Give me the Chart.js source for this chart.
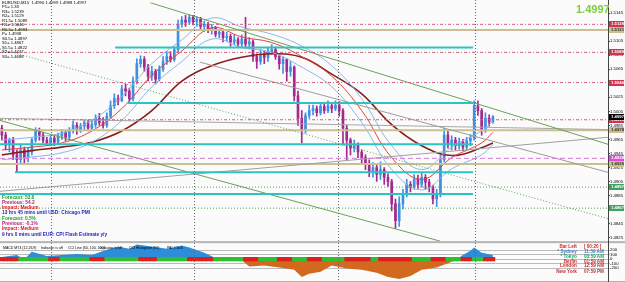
<!DOCTYPE html>
<html lang="en">
<head>
<meta charset="UTF-8" />
<script src="https://cdn.jsdelivr.net/npm/chart.js@4.4.1/dist/chart.umd.min.js"></script>
<style>
  body { margin: 0; background: #fbfbfb; }
  #wrap { position: relative; width: 625px; height: 282px; overflow: hidden; font-family: "Liberation Sans", Arial, sans-serif; }
  #myChart { position: absolute; left: 0; top: 0; }
  .t { position: absolute; white-space: nowrap; line-height: 1; font-size: 8px; transform-origin: 0 0; }
  .row { height: 8.8px; line-height: 8.8px; white-space: nowrap; }
  .clk { height: 8.35px; line-height: 8.35px; white-space: nowrap; }
  .hdr { transform: scale(0.44, 0.55); color: #000; }
</style>
</head>
<body>
<div id="wrap">
  <canvas id="myChart" width="625" height="282"></canvas>

  <div class="t" style="left:2px;top:1px;transform:scale(0.525);line-height:8.48px;color:#000;white-space:pre">EURUSD,M15  1.4990 1.4999 1.4988 1.4997
P1= 1.33
R3= 1.5239
R2= 1.5129
R1.5= 1.5089
R1= 1.5046
R0.5= 1.4993
P= 1.4938
S0.5= 1.4897
S1= 1.4867
S1.5= 1.4822
S2= 1.4747
S3= 1.4688</div>

  <div class="t" style="left:576px;top:4px;font-size:11px;font-weight:bold;color:#7ccd3c">1.4997</div>

  <div class="t" style="left:2px;top:194.5px;transform:scale(0.6);font-weight:bold">
    <div class="row" style="color:#22a022">Forecast: 53.8</div>
    <div class="row" style="color:#b8207e">Previous: 54.2</div>
    <div class="row" style="color:#e02020">Impact: Medium</div>
    <div class="row" style="color:#2424c4">13 hrs 45 mins until USD: Chicago PMI</div>
    <div class="row" style="color:#22a022">Forecast: 0.5%</div>
    <div class="row" style="color:#b8207e">Previous: -0.1%</div>
    <div class="row" style="color:#e02020">Impact: Medium</div>
    <div class="row" style="color:#2424c4">9 hrs 0 mins until EUR: CPI Flash Estimate y/y</div>
  </div>

  <div class="t hdr" style="left:3px;top:246px">MACD MT4 (12,26,9)</div>
  <div class="t hdr" style="left:41px;top:246px">Indicator is off</div>
  <div class="t hdr" style="left:68px;top:246px">CCI Line (50, 100, 100)</div>
  <div class="t hdr" style="left:100px;top:246px">Indicator is off</div>
  <div class="t hdr" style="left:129px;top:246px">CCI Histogram (50)</div>
  <div class="t hdr" style="left:167px;top:246px">PAL Clock</div>

  <div class="t" style="left:540px;top:245px;width:64px;text-align:right;transform:scale(0.575);font-weight:bold">
    <div class="clk" style="color:#cc2a2a">Bar Left</div>
    <div class="clk" style="color:#3a80d0">* Sydney</div>
    <div class="clk" style="color:#2aa06a">* Tokyo</div>
    <div class="clk" style="color:#c03030">Berlin</div>
    <div class="clk" style="color:#c03030">London</div>
    <div class="clk" style="color:#c03030">New York</div>
  </div>
  <div class="t" style="left:584px;top:245px;transform:scale(0.575);font-weight:bold">
    <div class="clk" style="color:#cc2a2a">[ 00:20 ]</div>
    <div class="clk" style="color:#3a80d0">11:59 AM</div>
    <div class="clk" style="color:#2aa06a">08:59 AM</div>
    <div class="clk" style="color:#c03030">01:59 AM</div>
    <div class="clk" style="color:#c03030">12:59 AM</div>
    <div class="clk" style="color:#c03030">07:59 PM</div>
  </div>
</div>

<script>
// EURUSD M15 candles, index 0..131
const opens = [
  1.4981,1.4971,1.4957,1.4964,1.4943,1.4936,1.4950,1.4939,1.4947,1.4964,
  1.4978,1.4971,1.4964,1.4960,1.4967,1.4961,1.4970,1.4975,1.4968,1.4978,
  1.4985,1.4978,1.4984,1.4989,1.4981,1.4986,1.4995,1.4989,1.4985,1.4998,
  1.5013,1.5023,1.5020,1.5037,1.5034,1.5023,1.5048,1.5073,1.5079,1.5068,
  1.5055,1.5062,1.5051,1.5065,1.5076,1.5083,1.5079,1.5093,1.5129,1.5135,
  1.5132,1.5139,1.5133,1.5136,1.5126,1.5129,1.5121,1.5124,1.5115,1.5118,
  1.5110,1.5112,1.5104,1.5107,1.5101,1.5108,1.5101,1.5104,1.5083,1.5076,
  1.5087,1.5082,1.5090,1.5093,1.5083,1.5073,1.5079,1.5062,1.5068,1.5027,
  1.4995,1.4978,1.4999,1.5006,1.5009,1.5003,1.5012,1.5006,1.5013,1.5009,
  1.5014,1.5006,1.4981,1.4964,1.4953,1.4957,1.4947,1.4939,1.4929,1.4919,
  1.4925,1.4915,1.4922,1.4911,1.4905,1.4873,1.4849,1.4873,1.4887,1.4901,
  1.4897,1.4908,1.4901,1.4911,1.4904,1.4897,1.4880,1.4887,1.4936,1.4971,
  1.4957,1.4964,1.4956,1.4961,1.4954,1.4963,1.4967,1.5013,1.5006,1.4978,
  1.4995,1.4990
];
const highs = [
  1.4985,1.4975,1.4967,1.4968,1.4950,1.4957,1.4954,1.4953,1.4967,1.4982,
  1.4981,1.4975,1.4968,1.4971,1.4970,1.4974,1.4979,1.4978,1.4982,1.4991,
  1.4989,1.4988,1.4993,1.4992,1.4993,1.5000,1.5002,1.4996,1.5003,1.5020,
  1.5030,1.5028,1.5042,1.5044,1.5038,1.5054,1.5080,1.5084,1.5083,1.5072,
  1.5069,1.5065,1.5070,1.5083,1.5090,1.5090,1.5097,1.5135,1.5140,1.5142,
  1.5143,1.5142,1.5140,1.5139,1.5133,1.5132,1.5129,1.5126,1.5122,1.5121,
  1.5118,1.5115,1.5114,1.5110,1.5114,1.5139,1.5110,1.5107,1.5087,1.5093,
  1.5091,1.5096,1.5100,1.5097,1.5086,1.5083,1.5080,1.5076,1.5070,1.5034,
  1.5006,1.5003,1.5014,1.5014,1.5013,1.5017,1.5016,1.5020,1.5017,1.5020,
  1.5019,1.5009,1.4985,1.4967,1.4964,1.4960,1.4950,1.4943,1.4936,1.4932,
  1.4930,1.4933,1.4925,1.4916,1.4908,1.4880,1.4883,1.4894,1.4908,1.4905,
  1.4915,1.4914,1.4918,1.4915,1.4908,1.4900,1.4894,1.4943,1.4981,1.4978,
  1.4970,1.4968,1.4967,1.4965,1.4968,1.4972,1.5020,1.5020,1.5009,1.5003,
  1.5000,1.4999
];
const lows = [
  1.4964,1.4950,1.4947,1.4936,1.4918,1.4932,1.4932,1.4933,1.4943,1.4961,
  1.4964,1.4960,1.4956,1.4957,1.4956,1.4958,1.4965,1.4963,1.4964,1.4974,
  1.4972,1.4975,1.4978,1.4977,1.4978,1.4982,1.4985,1.4981,1.4982,1.4995,
  1.5009,1.5014,1.5019,1.5027,1.5019,1.5020,1.5044,1.5068,1.5062,1.5048,
  1.5049,1.5044,1.5048,1.5062,1.5072,1.5075,1.5076,1.5090,1.5125,1.5126,
  1.5129,1.5128,1.5126,1.5122,1.5119,1.5117,1.5115,1.5111,1.5110,1.5104,
  1.5105,1.5098,1.5100,1.5096,1.5097,1.5097,1.5094,1.5076,1.5066,1.5072,
  1.5073,1.5076,1.5086,1.5079,1.5065,1.5059,1.5048,1.5055,1.5020,1.4985,
  1.4960,1.4974,1.4995,1.5000,1.4998,1.5000,1.5002,1.5003,1.5003,1.5006,
  1.4998,1.4957,1.4936,1.4943,1.4947,1.4939,1.4929,1.4922,1.4912,1.4911,
  1.4905,1.4908,1.4901,1.4898,1.4863,1.4838,1.4841,1.4866,1.4883,1.4890,
  1.4894,1.4895,1.4897,1.4894,1.4890,1.4873,1.4869,1.4883,1.4933,1.4953,
  1.4950,1.4950,1.4951,1.4949,1.4951,1.4956,1.4964,1.4999,1.4971,1.4975,
  1.4984,1.4988
];
const closes = [
  1.4971,1.4957,1.4964,1.4943,1.4936,1.4950,1.4939,1.4947,1.4964,1.4978,
  1.4971,1.4964,1.4960,1.4967,1.4961,1.4970,1.4975,1.4968,1.4978,1.4985,
  1.4978,1.4984,1.4989,1.4981,1.4986,1.4995,1.4989,1.4985,1.4998,1.5013,
  1.5023,1.5020,1.5037,1.5034,1.5023,1.5048,1.5073,1.5079,1.5068,1.5055,
  1.5062,1.5051,1.5065,1.5076,1.5083,1.5079,1.5093,1.5129,1.5135,1.5132,
  1.5139,1.5133,1.5136,1.5126,1.5129,1.5121,1.5124,1.5115,1.5118,1.5110,
  1.5112,1.5104,1.5107,1.5101,1.5108,1.5101,1.5104,1.5083,1.5076,1.5087,
  1.5082,1.5090,1.5093,1.5083,1.5073,1.5079,1.5062,1.5068,1.5027,1.4995,
  1.4978,1.4999,1.5006,1.5009,1.5003,1.5012,1.5006,1.5013,1.5009,1.5014,
  1.5006,1.4981,1.4964,1.4953,1.4957,1.4947,1.4939,1.4929,1.4919,1.4925,
  1.4915,1.4922,1.4911,1.4905,1.4873,1.4849,1.4873,1.4887,1.4901,1.4897,
  1.4908,1.4901,1.4911,1.4904,1.4897,1.4880,1.4887,1.4936,1.4971,1.4957,
  1.4964,1.4956,1.4961,1.4954,1.4963,1.4967,1.5013,1.5006,1.4978,1.4995,
  1.4990,1.4997
];

// moving averages at these bar indexes
const maIndex = [0,8,16,24,32,40,48,56,64,72,80,88,96,104,112,120,128,131];
const maSlow  = [1.4943,1.4949,1.4954,1.4961,1.4977,1.5006,1.5048,1.5070,1.5082,1.5087,1.5082,1.5058,1.5030,1.4986,1.4956,1.4942,1.4953,1.4960];
const maFast  = [1.4950,1.4954,1.4960,1.4977,1.5009,1.5056,1.5091,1.5124,1.5111,1.5103,1.5083,1.5055,1.5006,1.4939,1.4908,1.4939,1.4960,1.4975];
const bandUp  = [1.4964,1.4968,1.4974,1.4992,1.5026,1.5073,1.5107,1.5138,1.5125,1.5115,1.5098,1.5070,1.5023,1.4956,1.4922,1.4954,1.4977,1.4991];
const bandDn  = [1.4936,1.4940,1.4946,1.4961,1.4992,1.5040,1.5076,1.5108,1.5096,1.5089,1.5068,1.5040,1.4989,1.4922,1.4893,1.4923,1.4943,1.4958];

// pivot levels and drawn objects
const pivotRes = [1.5129, 1.5089, 1.5046, 1.4993];
const pivotP = 1.4938;
const pivotSup = [1.4897, 1.4867];
const zoneLevels = [1.5121, 1.4978, 1.4930];
const lastPrice = 1.4997;
const cyanLevels = [1.5096, 1.5017, 1.4958, 1.4918, 1.4887];
const cyanFrom = [30.2, 33.6, -0.5, 3.5, -0.5];
const cyanTo = 125.7;
const channelTop = [[39.5, 1.5160], [161.7, 1.4958]];
const channelBottom = [[-0.5, 1.4992], [116.9, 1.4820]];
const channelMid = [[-0.5, 1.5094], [161.7, 1.4852]];
const grayFall = [[52.9, 1.5075], [161.7, 1.4918]];
const grayFlat = [[-0.5, 1.4995], [161.7, 1.4979]];
const grayRise = [[-0.5, 1.4891], [161.7, 1.4968]];
const periodBreaks = [13.1, 51.3, 89.7, 126.2];

// MACD histogram
const macdIndex = [0,4,6,8,12,16,20,24,28,31,34,36,40,44,48,50,54,57,60,64,66,70,74,78,80,82,85,88,92,96,100,103,106,109,112,116,119,121,123,125,126,128,131];
const macdVals = [47,93,0,163,70,93,116,93,209,279,233,326,279,233,302,256,140,23,0,-23,-163,-140,-186,-233,-395,-326,-279,-140,-209,-233,-302,-395,-442,-372,-233,-186,-93,-23,93,186,256,140,93];
const zeroBand = [['r',0,4],['g',5,12],['r',13,15],['g',16,23],['r',24,27],['g',28,36],['r',37,41],['g',42,49],['r',50,56],['g',57,64],['r',65,68],['g',69,73],['r',74,77],['g',78,81],['r',82,85],['g',86,91],['r',92,98],['g',99,100],['r',101,109],['g',110,114],['r',115,118],['g',119,122],['r',123,125],['g',126,128],['r',129,131]];

const priceTicks = [1.5145,1.5125,1.5105,1.5085,1.5065,1.5045,1.5025,1.5005,1.4985,1.4965,1.4945,1.4925,1.4905,1.4885,1.4865,1.4845,1.4825];
const macdTicks = [200,100,0,-100,-200];

const X_MIN = -0.5, X_MAX = 161.7;
const BULL = '#3f8fe3', BEAR = '#a5288c';

function seg(pts) { return pts.map(p => ({ x: p[0], y: p[1] })); }
function hline(v, a, b) { return [{ x: a, y: v }, { x: b, y: v }]; }
function lineDs(data, color, width, dash, order) {
	return { type: 'line', data: data, borderColor: color, borderWidth: width, borderDash: dash || [], pointRadius: 0, fill: false, order: order, yAxisID: 'y' };
}
function maDs(vals, color, width) {
	return { type: 'line', data: maIndex.map((i, k) => ({ x: i, y: vals[k] })), borderColor: color, borderWidth: width, pointRadius: 0, tension: 0.4, fill: false, order: 3, yAxisID: 'y' };
}

const candleColors = closes.map((c, i) => (c >= opens[i] ? BULL : BEAR));
const bandBars = [];
const bandColors = [];
zeroBand.forEach(s => {
	for (let i = s[1]; i <= s[2]; i++) {
		bandBars.push({ x: i, y: [-40, 40] });
		bandColors.push(s[0] === 'r' ? '#e01e1e' : '#2fc02f');
	}
});

const datasets = [
	// levels
	...pivotRes.map(v => lineDs(hline(v, X_MIN, X_MAX), '#d45c7a', 1, [3, 2, 1, 2], 1)),
	lineDs(hline(pivotP, X_MIN, X_MAX), '#d47ad4', 1, [5, 3], 1),
	...pivotSup.map(v => lineDs(hline(v, X_MIN, X_MAX), '#4ca24c', 1, [1, 2], 1)),
	...zoneLevels.map(v => lineDs(hline(v, X_MIN, X_MAX), '#cbbf92', 2, [], 2)),
	...cyanLevels.map((v, k) => lineDs(hline(v, cyanFrom[k], cyanTo), '#2fc2c2', 2, [], 1)),
	lineDs(seg(channelTop), '#6aa05a', 1, [], 1),
	lineDs(seg(channelBottom), '#6aa05a', 1, [], 1),
	lineDs(seg(channelMid), '#5fa05f', 1, [1, 2], 1),
	lineDs(seg(grayFall), '#9c9c9c', 1, [], 1),
	lineDs(seg(grayFlat), '#a8a8a8', 1, [], 1),
	lineDs(seg(grayRise), '#a0a0a0', 1, [], 1),
	// moving averages
	maDs(bandUp, '#8cb8e8', 1),
	maDs(bandDn, '#8cb8e8', 1),
	maDs(maFast, '#e0443c', 1),
	maDs(maSlow, '#8b1c1c', 1.6),
	// candles
	{ type: 'bar', data: closes.map((c, i) => ({ x: i, y: [lows[i], highs[i]] })), backgroundColor: candleColors, barThickness: 1, grouped: false, order: 6, yAxisID: 'y' },
	{ type: 'bar', data: closes.map((c, i) => ({ x: i, y: [opens[i], c] })), backgroundColor: candleColors, barThickness: 2, minBarLength: 1, grouped: false, order: 5, yAxisID: 'y' },
	// MACD panel
	{ type: 'line', data: macdIndex.map((i, k) => ({ x: i, y: macdVals[k] })), borderWidth: 0, borderColor: 'rgba(0,0,0,0)', pointRadius: 0, fill: { target: 'origin', above: '#2e8ddb', below: '#d2691e' }, order: 4, yAxisID: 'yM' },
	{ type: 'bar', data: bandBars, backgroundColor: bandColors, barThickness: 4, grouped: false, order: 2, yAxisID: 'yM' }
];

const mt4 = {
	id: 'mt4',
	beforeDraw(chart) {
		const ctx = chart.ctx;
		ctx.save();
		ctx.fillStyle = '#fbfbfb';
		ctx.fillRect(0, 0, chart.width, chart.height);
		ctx.restore();
	},
	afterDraw(chart) {
		const ctx = chart.ctx;
		const xs = chart.scales.x, ys = chart.scales.y;
		ctx.save();
		ctx.strokeStyle = '#666';
		ctx.lineWidth = 1;
		ctx.setLineDash([1, 2]);
		periodBreaks.forEach(v => {
			const px = Math.round(xs.getPixelForValue(v)) + 0.5;
			ctx.beginPath();
			ctx.moveTo(px, 0);
			ctx.lineTo(px, chart.height);
			ctx.stroke();
		});
		ctx.setLineDash([]);
		ctx.fillStyle = '#b4b4b4';
		ctx.fillRect(0, ys.bottom, chart.width, 2);
		ctx.fillRect(0, chart.height - 1, chart.width, 1);
		ctx.fillStyle = '#444';
		ctx.fillRect(ys.left, 0, 1, chart.height);

		const box = (v, bg, fg) => {
			const py = Math.round(ys.getPixelForValue(v));
			ctx.fillStyle = bg;
			ctx.fillRect(ys.left + 1, py - 3, chart.width - ys.left - 2, 6);
			ctx.fillStyle = fg;
			ctx.font = 'bold 4.3px "Liberation Sans", Arial, sans-serif';
			ctx.textBaseline = 'middle';
			ctx.fillText(v.toFixed(4), ys.left + 3, py + 0.3);
		};
		pivotRes.forEach(v => box(v, '#d1344f', '#fff'));
		zoneLevels.forEach(v => box(v, '#cbbf8c', '#333'));
		box(pivotP, '#e04ce0', '#fff');
		pivotSup.forEach(v => box(v, '#3fa060', '#fff'));
		box(lastPrice, '#000', '#fff');
		ctx.restore();
	}
};

Chart.defaults.font.family = '"Liberation Sans", Arial, sans-serif';

const ctx = document.getElementById('myChart').getContext('2d');
const myChart = new Chart(ctx, {
	type: 'line',
	data: { datasets: datasets },
	options: {
		responsive: false,
		devicePixelRatio: 1,
		animation: false,
		layout: { padding: 0 },
		plugins: { legend: { display: false }, tooltip: { enabled: false } },
		scales: {
			x: { type: 'linear', min: X_MIN, max: X_MAX, offset: false, display: false },
			y: {
				type: 'linear', position: 'right', stack: 'v', stackWeight: 243,
				min: 1.4820, max: 1.5160,
				afterFit: s => { s.width = 17; },
				afterBuildTicks: s => { s.ticks = priceTicks.map(v => ({ value: v })); },
				grid: { drawOnChartArea: false, tickLength: 2, color: '#444' },
				border: { display: false },
				ticks: { autoSkip: false, padding: 0, color: '#000', font: { size: 4.3 }, callback: v => v.toFixed(4) }
			},
			yM: {
				type: 'linear', position: 'right', stack: 'v', stackWeight: 39,
				min: -450, max: 400,
				afterFit: s => { s.width = 17; },
				afterBuildTicks: s => { s.ticks = macdTicks.map(v => ({ value: v })); },
				grid: { drawOnChartArea: true, tickLength: 2, color: '#bbb', borderDash: [1, 2] },
				border: { display: false },
				ticks: { autoSkip: false, padding: 0, color: '#000', font: { size: 4.3 } }
			}
		}
	},
	plugins: [mt4]
});
</script>
</body>
</html>
